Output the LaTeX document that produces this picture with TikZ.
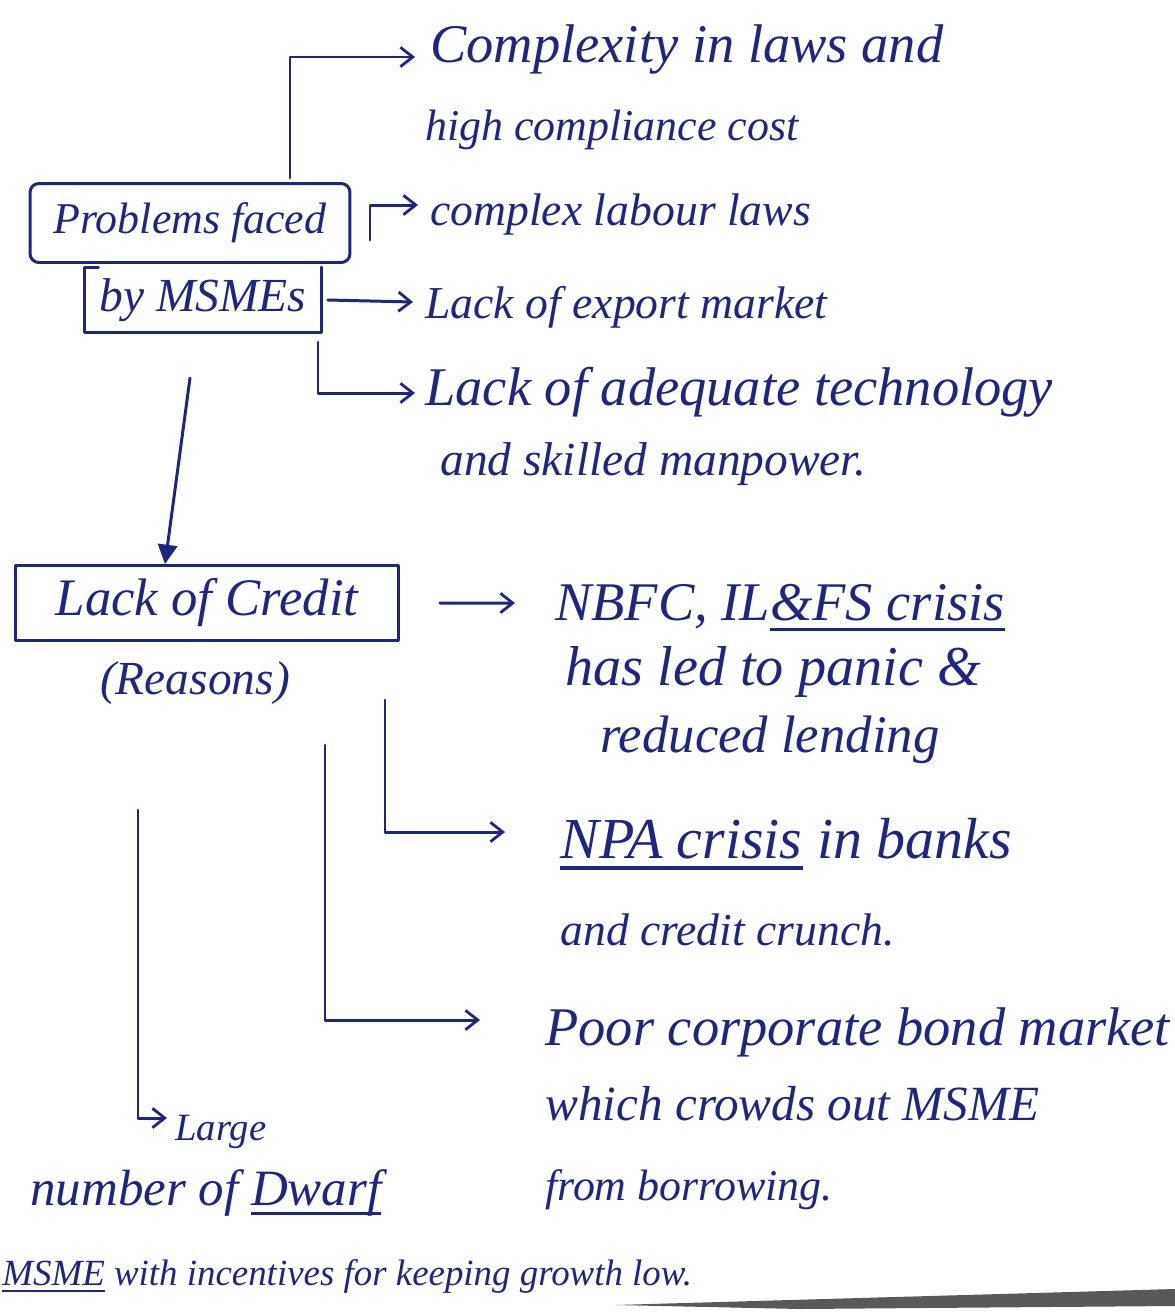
\documentclass[tikz,border=0pt]{standalone}
\usepackage{fontspec}
\setmainfont{Liberation Serif}
\usetikzlibrary{arrows.meta}
\definecolor{ink}{RGB}{30,38,130}
\newcommand\fsz[1]{\fontsize{#1}{#1}\selectfont}
\newcommand\inkul[1]{\setbox0\hbox{#1}\rlap{\rule[-0.2em]{\wd0}{0.06em}}\box0\relax}
\begin{document}
\begin{tikzpicture}[x=0.02cm,y=-0.02cm,
  pen/.style={draw=ink,line width=1.7pt,line cap=round,line join=round},
  arr/.style={pen,-{Straight Barb[length=7pt,width=11pt,line width=1.6pt]}},
  tri/.style={pen,-{Triangle[length=11pt,width=11pt]}},
  t/.style={text=ink,inner sep=0pt,anchor=base west,font=\itshape},
  box/.style={pen,inner sep=0pt,text=ink,font=\itshape}]

\fill[white] (0,0) rectangle (1175,1312);
\useasboundingbox (0,0) rectangle (1175,1312);

% ---------- Problems faced ----------
\node[box,minimum width=6.4cm,minimum height=1.58cm,rounded corners=5pt] (pf) at (190,223) {\fsz{25}Problems faced};
\node[t,anchor=center,inner xsep=0.3cm,inner ysep=0.22cm] (by) at (203,300) {\fsz{27}by MSMEs};
\draw[pen] ([xshift=8pt]by.north west) -- (by.north west) -- (by.south west) -- (by.south east) -- (by.north east);

\node[t] (c1a) at (430,62) {\fsz{31}Complexity in laws and};
\node[t] (c1b) at (425,140) {\fsz{25}high compliance cost};
\node[t] (c2) at (430,225) {\fsz{26}complex labour laws};
\node[t] (c3) at (425,318) {\fsz{26}Lack of export market};
\node[t] (c4a) at (425,405) {\fsz{31}Lack of adequate technology};
\node[t] (c4b) at (440,475) {\fsz{27}and skilled manpower.};

\coordinate (a1s) at (290,178);
\draw[arr] (a1s) |- ([shift={(-0.3cm,0.1cm)}]c1a.base west);
\coordinate (a2s) at (370,240);
\draw[arr] (a2s) |- ([shift={(-0.24cm,0.4cm)}]c2.base west);
\draw[arr] ([xshift=0.12cm]by.east) -- ([shift={(-0.24cm,0.32cm)}]c3.base west);
\coordinate (a4s) at (318,342);
\draw[arr] (a4s) |- ([shift={(-0.2cm,0.24cm)}]c4a.base west);

% ---------- Lack of Credit ----------
\node[box,minimum width=7.66cm,minimum height=1.5cm] (lc) at (207,603) {\fsz{30}Lack of Credit};
\node[t,anchor=center] (rs) at (195,683) {\fsz{27}(Reasons)};
\coordinate (ds) at (190,378);
\draw[tri] (ds) -- ([xshift=-0.84cm]lc.north);

\node[t] (n1a) at (555,620) {\fsz{31}NBFC, IL\inkul{\&FS crisis}};
\node[t] (n1b) at (565,685) {\fsz{32}has led to panic \&};
\node[t] (n1c) at (600,752) {\fsz{30}reduced lending};

\node[t] (p1a) at (560,858) {\fsz{33}\inkul{NPA crisis} in banks};
\node[t] (p1b) at (560,945) {\fsz{26}and credit crunch.};

\node[t] (q1a) at (545,1045) {\fsz{31}Poor corporate bond market};
\node[t] (q1b) at (545,1120) {\fsz{28}which crowds out MSME};
\node[t] (q1c) at (545,1200) {\fsz{25}from borrowing.};

\node[t] (l1a) at (175,1140) {\fsz{22}Large};
\node[t] (l1b) at (30,1205) {\fsz{29}number of \inkul{Dwarf}};
\node[t] (l1c) at (2,1285) {\fsz{21}\inkul{MSME} with incentives for keeping growth low.};

\draw[arr] ([xshift=0.8cm]lc.east) -- ([shift={(-0.8cm,0.34cm)}]n1a.base west);
\coordinate (b2s) at (385,700);
\draw[arr] (b2s) |- ([shift={(-1.1cm,0.52cm)}]p1a.base west);
\coordinate (b3s) at (325,745);
\draw[arr] (b3s) |- ([shift={(-1.3cm,0.5cm)}]q1a.base west);
\coordinate (b4s) at (138,810);
\draw[arr] (b4s) |- ([shift={(-0.16cm,0.44cm)}]l1a.base west);

% page-edge shadow at the bottom
\fill[black!65] (615,1305) -- (1175,1289) -- (1175,1306) -- (800,1309) -- cycle;
\end{tikzpicture}
\end{document}
